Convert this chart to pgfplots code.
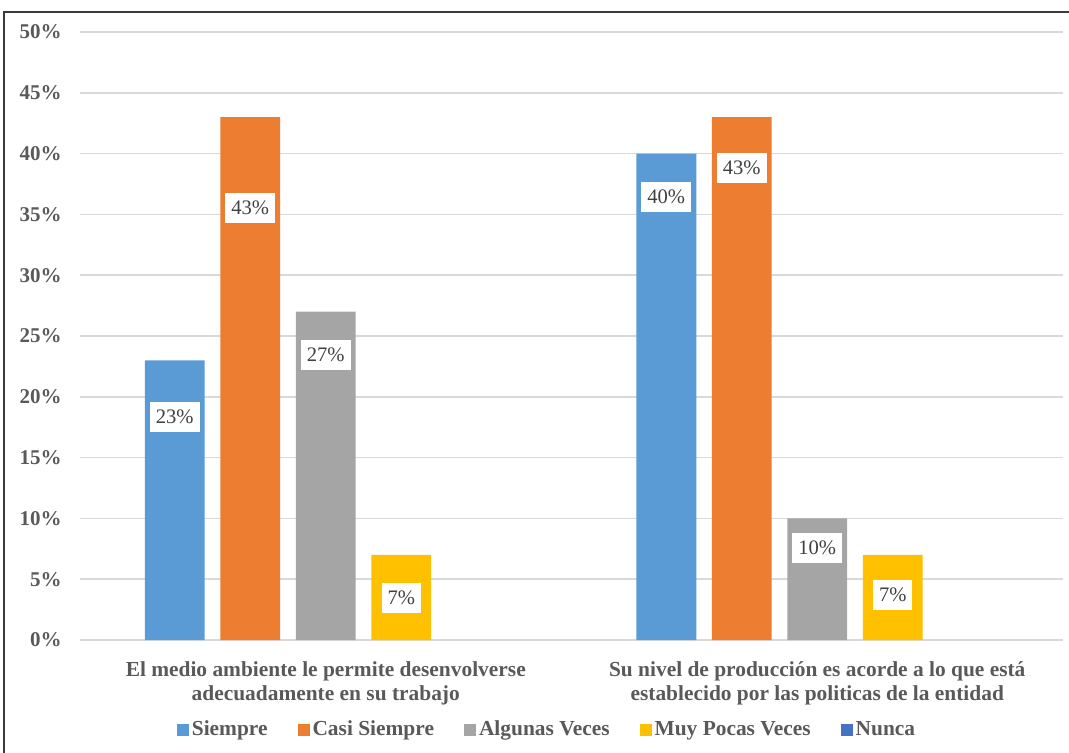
\documentclass[border=0pt]{standalone}
\usepackage{pgfplots}
\pgfplotsset{compat=1.18}
\usepackage{fontspec}
\setmainfont{Liberation Serif}

\definecolor{siempre}{HTML}{5B9BD5}
\definecolor{casi}{HTML}{ED7D31}
\definecolor{algunas}{HTML}{A5A5A5}
\definecolor{muypocas}{HTML}{FFC000}
\definecolor{nunca}{HTML}{4472C4}
\definecolor{txt}{HTML}{595959}
\definecolor{lbl}{HTML}{404040}
\definecolor{gridc}{HTML}{D9D9D9}
\definecolor{framec}{HTML}{3A3A3A}

\begin{document}
\begin{tikzpicture}
\useasboundingbox (-40pt,-56pt) rectangle (494.5pt,320pt);
\draw[line width=1pt, framec] (-38pt,-60pt) -- (-38pt,314pt) -- (500pt,314pt);

\begin{axis}[
    scale only axis,
    width=491.5pt, height=304pt,
    xmin=-0.5, xmax=1.5,
    ymin=0, ymax=50,
    axis line style={draw=none},
    major tick length=0pt,
    ytick={0,5,...,50},
    yticklabels={0\%,5\%,10\%,15\%,20\%,25\%,30\%,35\%,40\%,45\%,50\%},
    yticklabel style={font=\bfseries\fontsize{10.5}{12}\selectfont, text=txt,
        inner sep=0pt, xshift=-9pt},
    xtick={0,1},
    xticklabels={
        {El medio ambiente le permite desenvolverse\\adecuadamente en su trabajo},
        {Su nivel de producción es acorde a lo que está\\establecido por las politicas de la entidad}},
    xticklabel style={font=\bfseries\fontsize{10.7}{12.3}\selectfont, text=txt,
        align=center, inner sep=0pt, yshift=-10.5pt},
    ymajorgrids,
    grid style={gridc, line width=0.8pt},
    legend columns=5,
    legend image code/.code={\fill[#1] (0pt,-3pt) rectangle (6pt,3pt);},
    legend style={draw=none, at={(0.4756,-0.148)}, anchor=center,
        font=\bfseries\fontsize{10.7}{12}\selectfont, text=txt,
        nodes={inner sep=1.5pt},
        /tikz/every even column/.append style={column sep=13.5pt}},
    legend cell align=left,
]

\addplot[ybar, bar width=0.122, bar shift=-0.3072, fill=siempre, draw=none]
    coordinates {(0,23) (1,40)};
\addplot[ybar, bar width=0.122, bar shift=-0.1536, fill=casi, draw=none]
    coordinates {(0,43) (1,43)};
\addplot[ybar, bar width=0.122, bar shift=0, fill=algunas, draw=none]
    coordinates {(0,27) (1,10)};
\addplot[ybar, bar width=0.122, bar shift=0.1536, fill=muypocas, draw=none]
    coordinates {(0,7) (1,7)};
% Nunca is 0% in both groups: nothing shows, only its legend key
\addplot[ybar, bar width=0.122, bar shift=0.3072, fill=none, draw=none, forget plot]
    coordinates {(0,0) (1,0)};
\addlegendimage{fill=nunca, draw=none}

% data labels, where the chart puts them
\addplot[draw=none, mark=none, forget plot,
    point meta=explicit symbolic,
    nodes near coords,
    nodes near coords style={anchor=center, fill=white, text=lbl,
        font=\fontsize{10.3}{12}\selectfont,
        inner xsep=3pt, minimum height=15pt}]
    coordinates {
        (-0.3072,18.34) [23\%]
        (-0.1536,35.53) [43\%]
        (0,23.44) [27\%]
        (0.1536,3.45) [7\%]
        (0.6928,36.43) [40\%]
        (0.8464,38.8) [43\%]
        (1,7.57) [10\%]
        (1.1536,3.7) [7\%]
    };

\legend{Siempre, Casi Siempre, Algunas Veces, Muy Pocas Veces, Nunca}
\end{axis}
\end{tikzpicture}
\end{document}
